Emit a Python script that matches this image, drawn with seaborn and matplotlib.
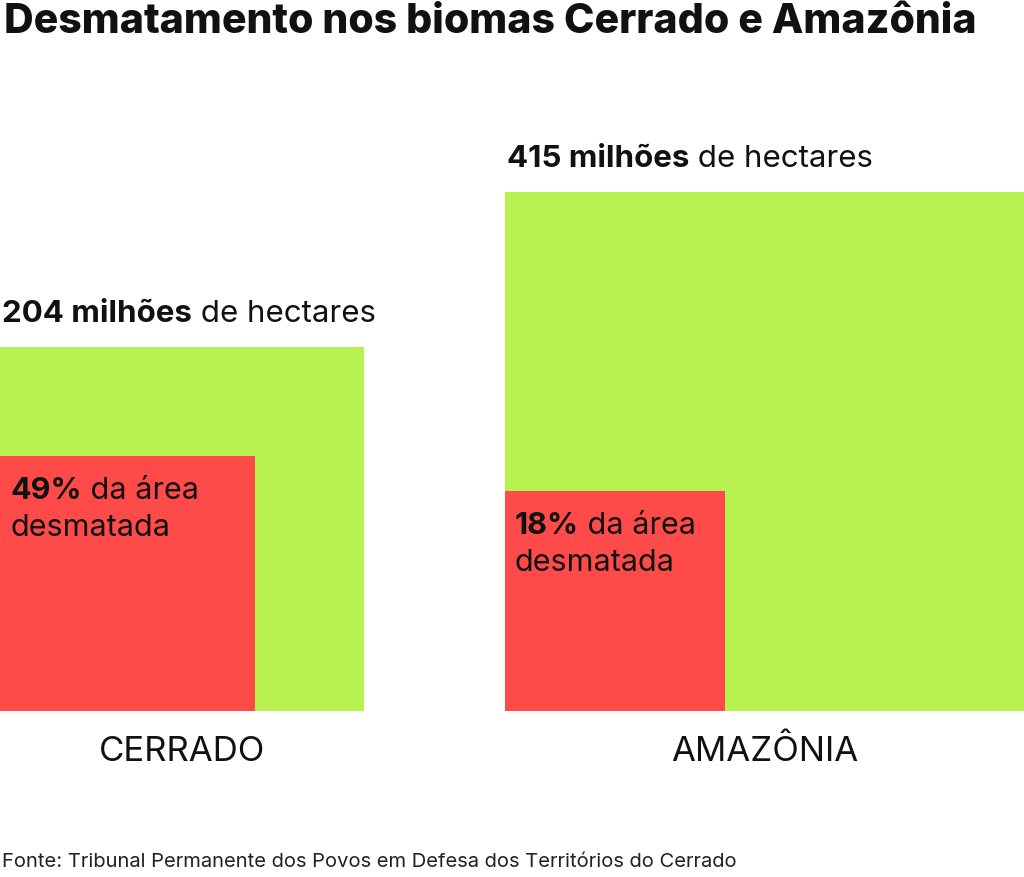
import matplotlib
matplotlib.use('Agg')
import matplotlib.pyplot as plt
import seaborn as sns
import numpy as np

biomes = ['CERRADO', 'AMAZÔNIA']
area_mi_ha = [204, 415]
deforested_pct = [49, 18]
area_labels = ['204 milhões', '415 milhões']
pct_labels = ['49%', '18%']

sns.set_theme(style='white')
plt.rcParams['font.family'] = ['Inter', 'DejaVu Sans']

W, H = 1024, 878
fig = plt.figure(figsize=(W / 100, H / 100), dpi=100)
ax = fig.add_axes([0, 0, 1, 1])
ax.set_xlim(0, W)
ax.set_ylim(0, H)
ax.axis('off')

base = 166
scale = 364 / np.sqrt(area_mi_ha[0])
lefts = [0, 505]
sides = np.sqrt(area_mi_ha) * scale
red_sides = sides * np.sqrt(np.array(deforested_pct) / 100)

ax.bar(lefts, sides, width=sides, bottom=base, align='edge', color='#b8f251', linewidth=0)
ax.bar(lefts, red_sides, width=red_sides, bottom=base, align='edge', color='#ff4a4a', linewidth=0)

for x, s, rs, name, al, pl in zip(lefts, sides, red_sides, biomes, area_labels, pct_labels):
    t = ax.text(x + 2, base + s + 20, al, fontsize=22.5, fontweight='bold', va='bottom', ha='left', color='#111')
    ax.annotate(' de hectares', xy=(1, 0), xycoords=t, va='bottom', ha='left', fontsize=22.5, color='#111')
    t2 = ax.text(x + 10, base + rs - 20, pl, fontsize=22, fontweight='bold', va='top', ha='left', color='#111')
    ax.annotate(' da área', xy=(1, 0), xycoords=t2, va='bottom', ha='left', fontsize=22, color='#111')
    ax.text(x + 10, base + rs - 57, 'desmatada', fontsize=22, va='top', ha='left', color='#111')
    ax.text(x + s / 2, base - 40, name, fontsize=25, fontweight='normal', ha='center', va='center', color='#111')

fig.text(0.004, 1 - 22 / H, 'Desmatamento nos biomas Cerrado e Amazônia', fontsize=29.5,
         fontweight='heavy', ha='left', va='center', color='#111')
fig.text(0.002, 1 - 862 / H, 'Fonte: Tribunal Permanente dos Povos em Defesa dos Territórios do Cerrado',
         fontsize=14.5, ha='left', va='center', color='#222')

fig.savefig('out.png', dpi=100)
